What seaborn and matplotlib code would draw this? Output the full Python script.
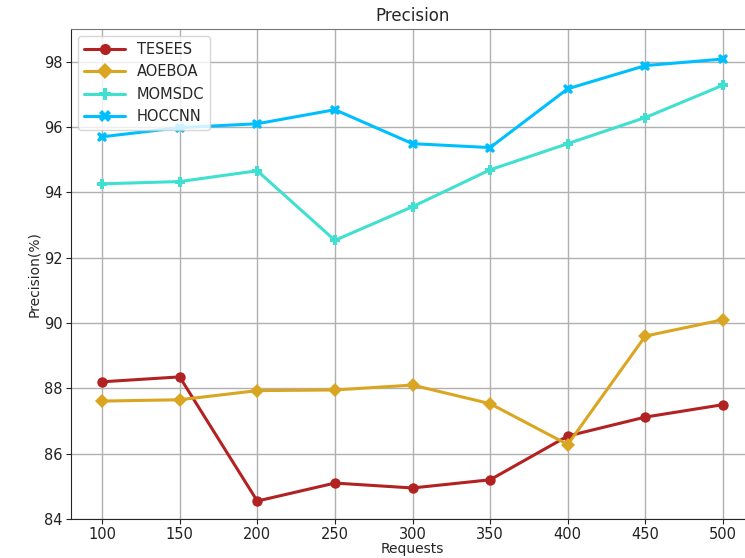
import numpy as np
import pandas as pd
import matplotlib
matplotlib.use("Agg")
import matplotlib.pyplot as plt
import seaborn as sns

requests = [100, 150, 200, 250, 300, 350, 400, 450, 500]
tesees = [88.20, 88.35, 84.55, 85.10, 84.95, 85.20, 86.54, 87.12, 87.50]
aoeboa = [87.61, 87.65, 87.93, 87.95, 88.10, 87.53, 86.28, 89.60, 90.10]
momsdc = [94.26, 94.33, 94.66, 92.53, 93.56, 94.69, 95.49, 96.29, 97.28]
hoccnn = [95.70, 95.98, 96.10, 96.53, 95.49, 95.37, 97.17, 97.88, 98.08]
series_names = ["TESEES", "AOEBOA", "MOMSDC", "HOCCNN"]
x_ticks = [100, 150, 200, 250, 300, 350, 400, 450, 500]
y_ticks = [84, 86, 88, 90, 92, 94, 96, 98]

df = pd.DataFrame({
    "Requests": requests * 4,
    "Precision": tesees + aoeboa + momsdc + hoccnn,
    "Method": sum([[n] * len(requests) for n in series_names], []),
})

sns.set_style("ticks")
plt.rcParams['font.family'] = ['DejaVu Sans']

fig = plt.figure(figsize=(7.45, 5.58), dpi=100)
ax = fig.add_axes([71 / 745, 39 / 558, (754 - 71) / 745, (519 - 29) / 558])

palette = {"TESEES": "#B22222", "AOEBOA": "#DAA520", "MOMSDC": "#40E0D0", "HOCCNN": "#00BFFF"}
markers = {"TESEES": "o", "AOEBOA": "D", "MOMSDC": "P", "HOCCNN": "X"}

sns.lineplot(data=df, x="Requests", y="Precision", hue="Method", style="Method",
             palette=palette, markers=markers, dashes=False, linewidth=2.2,
             markersize=7.5, markeredgewidth=0, ax=ax)

ax.set_xlim(80, 520)
ax.set_ylim(84, 99)
ax.set_xticks(x_ticks)
ax.set_yticks(y_ticks)
ax.grid(True, color="#b0b0b0", linewidth=1)
ax.set_axisbelow(True)
for s in ["top", "right"]:
    ax.spines[s].set_color("#777777")
ax.tick_params(labelsize=10.5, colors="#222222", pad=2.5)
ax.set_xlabel("Requests", fontsize=10, labelpad=0)
ax.set_ylabel("Precision(%)", fontsize=10, labelpad=2)
ax.set_title("Precision", fontsize=12, pad=6)

leg = ax.legend(loc="upper left", fontsize=10.5, title=None, frameon=True,
                handlelength=2.8)
for h in leg.legend_handles:
    h.set_markersize(8)

fig.savefig("out.png", dpi=100)
